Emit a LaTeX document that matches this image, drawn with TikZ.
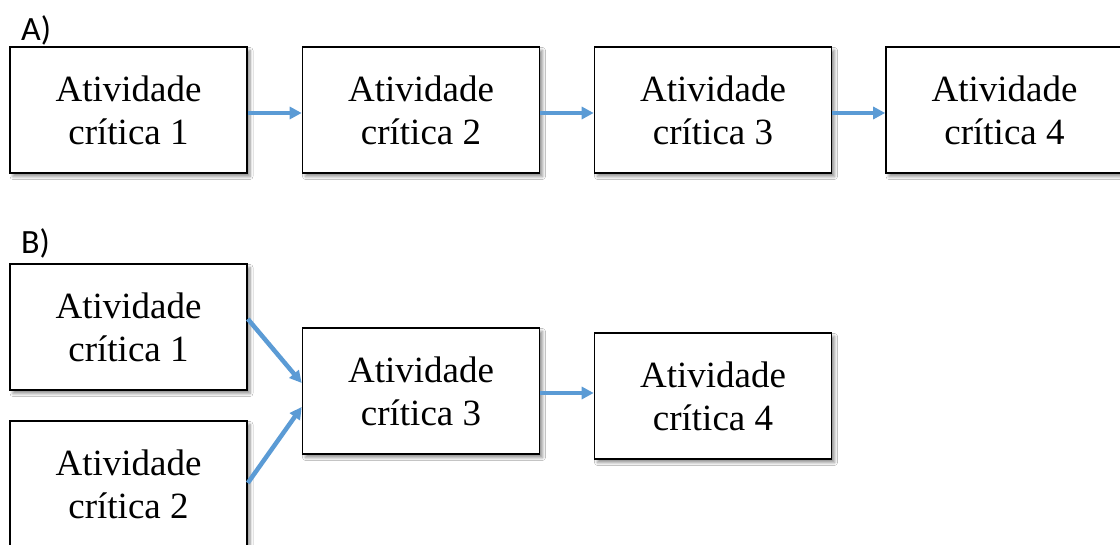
\documentclass[tikz,border=0pt]{standalone}
\usepackage{fontspec}
\setmainfont{Liberation Serif}
\newfontfamily\labelfont{Carlito}
\usetikzlibrary{arrows.meta,shadows.blur}
\definecolor{flowblue}{HTML}{5B9BD5}
\tikzset{
  task/.style={draw=black, line width=1.6pt, fill=white, rectangle,
    minimum width=237pt, minimum height=126pt, inner sep=0pt,
    align=center, font=\fontsize{37}{43}\selectfont,
    blur shadow={shadow xshift=3pt, shadow yshift=-3.5pt, shadow blur steps=6,
      shadow blur radius=3pt, shadow opacity=45}},
  flow/.style={draw=flowblue, line width=4.5pt,
    -{Triangle[length=12pt,width=12pt]}},
  partlabel/.style={anchor=west, inner sep=0pt, font=\labelfont\fontsize{34}{36}\selectfont}
}
\begin{document}
\begin{tikzpicture}[x=1pt,y=1pt]
\useasboundingbox (0,0) rectangle (1120,545);
\clip (0,0) rectangle (1120,545);
\fill[white] (0,0) rectangle (1120,545);

% part A: four activities in sequence
\node[partlabel] (lblA) at (21,515) {A)};
\node[task] (a1) at (128.5,435) {Atividade\\crítica 1};
\node[task] (a2) at (421,435) {Atividade\\crítica 2};
\node[task] (a3) at (713,435) {Atividade\\crítica 3};
\node[task] (a4) at (1004.5,435) {Atividade\\crítica 4};

\draw[flow] ([yshift=-3pt]a1.east) -- ([yshift=-3pt]a2.west);
\draw[flow] ([yshift=-3pt]a2.east) -- ([yshift=-3pt]a3.west);
\draw[flow] ([yshift=-3pt]a3.east) -- ([yshift=-3pt]a4.west);

% part B: two activities merging into the third
\node[partlabel] (lblB) at (21,302) {B)};
\node[task] (b1) at (128.5,218) {Atividade\\crítica 1};
\node[task] (b2) at (128.5,61) {Atividade\\crítica 2};
\node[task] (b3) at (421,154) {Atividade\\crítica 3};
\node[task] (b4) at (713,149) {Atividade\\crítica 4};

\coordinate (b1out) at ([yshift=8pt]b1.east);
\coordinate (b2out) at ([yshift=1pt]b2.east);
\coordinate (b3upper) at ([yshift=8pt]b3.west);
\coordinate (b3lower) at ([yshift=-16pt]b3.west);

\draw[flow] (b1out) -- (b3upper);
\draw[flow] (b2out) -- (b3lower);
\draw[flow] ([yshift=-2pt]b3.east) -- ([yshift=3pt]b4.west);
\end{tikzpicture}
\end{document}
